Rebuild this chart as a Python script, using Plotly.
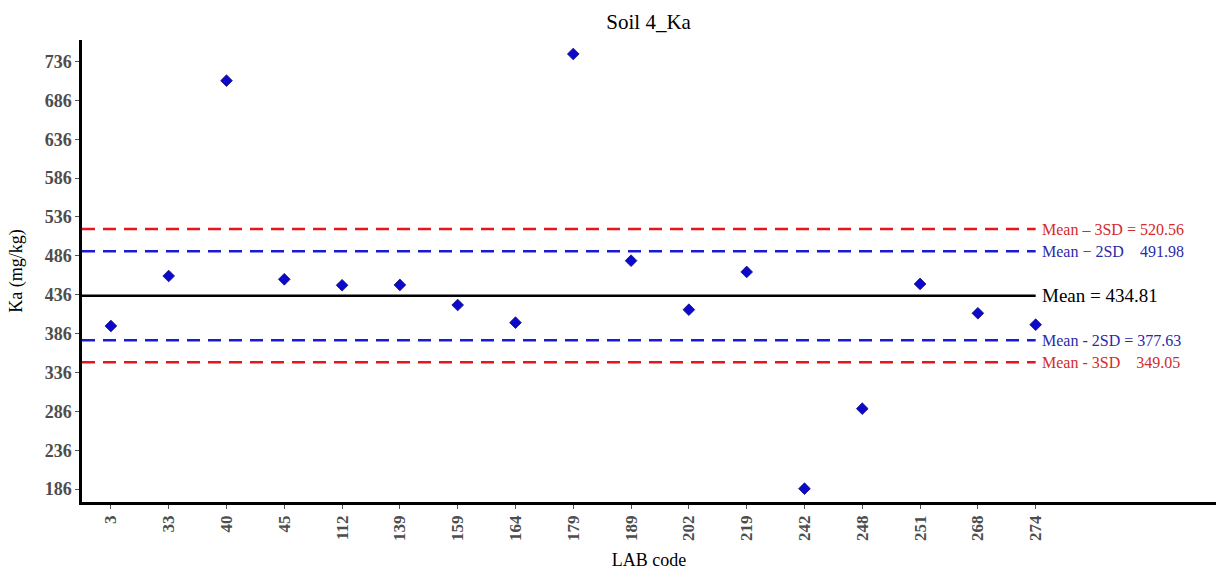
import plotly.graph_objects as go

# LAB codes and their reported Ka results (mg/kg)
lab_codes = ["3", "33", "40", "45", "112", "139", "159", "164", "179",
             "189", "202", "219", "242", "248", "251", "268", "274"]
ka_values = [395.8, 460.1, 711.3, 455.9, 448.2, 448.6, 422.8, 400.1, 745.6,
             479.8, 416.8, 465.3, 186.6, 289.5, 449.9, 412.2, 397.5]

# Reference lines: mean and control limits
mean_val = 434.81
upper_3sd = 520.56
upper_2sd = 491.98
lower_2sd = 377.63
lower_3sd = 349.05

ref_labels = [
    (upper_3sd, "Mean \u2013 3SD = 520.56", "#d42a2a", 16, "#e8161c", "dash"),
    (upper_2sd, "Mean \u2212 2SD&nbsp;&nbsp;&nbsp;&nbsp;491.98", "#2a2aa8", 16, "#1a1ad0", "dash"),
    (mean_val, "Mean = 434.81", "#000000", 19, "#000000", "solid"),
    (lower_2sd, "Mean - 2SD = 377.63", "#2a2aa8", 16, "#1a1ad0", "dash"),
    (lower_3sd, "Mean - 3SD&nbsp;&nbsp;&nbsp;&nbsp;349.05", "#d42a2a", 16, "#e8161c", "dash"),
]

serif = "Liberation Serif, Times New Roman, serif"

fig = go.Figure()

shapes = []
annotations = []
last_idx = len(lab_codes) - 1
for yv, text, tcolor, tsize, lcolor, dash in ref_labels:
    shapes.append(dict(
        type="line", xref="x", yref="y",
        x0=-0.5, x1=last_idx, y0=yv, y1=yv,
        line=dict(color=lcolor, width=2.5,
                  dash="13px,8px" if dash == "dash" else "solid"),
        layer="below",
    ))
    annotations.append(dict(
        x=last_idx, y=yv, xref="x", yref="y",
        text=text, showarrow=False, xanchor="left", yanchor="middle",
        xshift=4, font=dict(family=serif, size=tsize, color=tcolor),
    ))

fig.add_trace(go.Scatter(
    x=lab_codes, y=ka_values, mode="markers",
    marker=dict(symbol="diamond", size=9, color="#0a0acd",
                line=dict(color="#1a0a70", width=0.8)),
    showlegend=False,
))

fig.update_layout(
    width=1216, height=571,
    margin=dict(l=82, r=0, t=40, b=69),
    paper_bgcolor="white", plot_bgcolor="white",
    title=dict(text="Soil 4_Ka", x=0.5334, xanchor="center", y=0.962,
               yanchor="middle", font=dict(family=serif, size=21, color="black")),
    shapes=shapes, annotations=annotations,
    xaxis=dict(
        type="category", range=[-0.5, 19.12],
        showgrid=False, zeroline=False,
        showline=True, linecolor="black", linewidth=2.5,
        ticks="outside", ticklen=4, tickcolor="#555555", tickwidth=1,
        tickangle=-90,
        tickfont=dict(family=serif, size=17, color="#4d4d4d", weight="bold"),
        title=dict(text="LAB code", font=dict(family=serif, size=18, color="black"),
                   standoff=14),
    ),
    yaxis=dict(
        range=[169.5, 763.6],
        tick0=186, dtick=50,
        showgrid=False, zeroline=False,
        showline=True, linecolor="black", linewidth=2.5,
        ticks="outside", ticklen=4, tickcolor="#555555", tickwidth=1,
        tickfont=dict(family=serif, size=18, color="#4d4d4d", weight="bold"),
        title=dict(text="Ka (mg/kg)", font=dict(family=serif, size=18, color="black"),
                   standoff=18),
    ),
)

fig.write_html("out.html")
